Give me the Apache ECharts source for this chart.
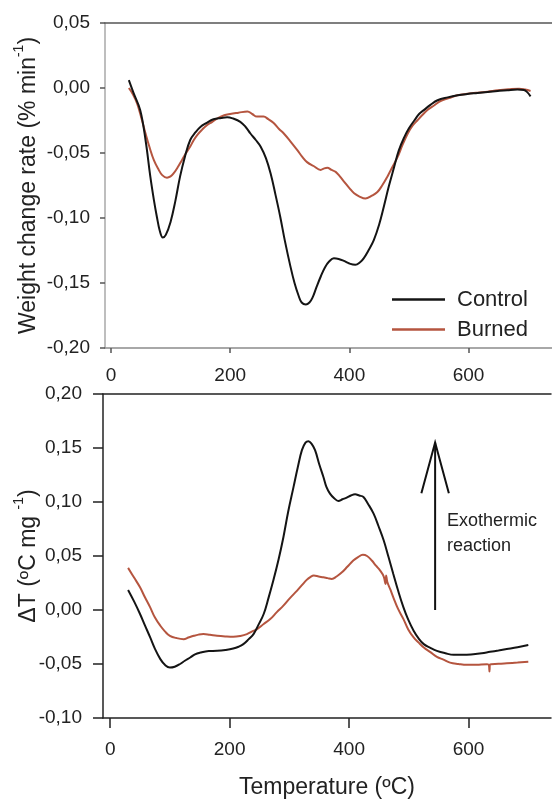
<!DOCTYPE html>
<html>
<head>
<meta charset="utf-8">
<script src="https://cdn.jsdelivr.net/npm/echarts@6/dist/echarts.min.js"></script>
<style>
html,body{margin:0;padding:0;background:#fff;}
#chart{width:552px;height:802px;}
</style>
</head>
<body>
<div id="chart"></div>
<script>
// ---- Data (temperature in ºC, value) ----
const xTickValues = [0, 200, 400, 600];
const seriesNames = ['Control', 'Burned'];

// Top panel: weight change rate (% min-1)
const dtgControl = [[30,0.006],[38,-0.004],[49,-0.017],[58,-0.040],[66,-0.068],[72,-0.086],[77,-0.099],[82,-0.110],[87,-0.115],[92,-0.113],[100,-0.103],[108,-0.087],[116,-0.068],[124,-0.053],[133,-0.040],[142,-0.034],[150,-0.030],[160,-0.027],[172,-0.024],[185,-0.023],[195,-0.0225],[205,-0.0235],[217,-0.026],[226,-0.030],[234,-0.035],[243,-0.040],[251,-0.045],[260,-0.054],[268,-0.066],[276,-0.082],[284,-0.099],[292,-0.118],[301,-0.137],[308,-0.150],[315,-0.160],[320,-0.165],[327,-0.1665],[333,-0.165],[338,-0.1615],[345,-0.153],[352,-0.145],[359,-0.138],[366,-0.1335],[374,-0.131],[382,-0.1315],[391,-0.133],[400,-0.135],[410,-0.136],[418,-0.134],[424,-0.131],[432,-0.125],[441,-0.117],[450,-0.105],[458,-0.091],[466,-0.076],[475,-0.061],[483,-0.048],[492,-0.038],[500,-0.031],[509,-0.025],[517,-0.020],[525,-0.017],[536,-0.013],[548,-0.0094],[565,-0.0072],[582,-0.0056],[598,-0.0046],[615,-0.0038],[632,-0.003],[649,-0.0023],[665,-0.0017],[682,-0.0012],[693,-0.0015],[698,-0.003],[704,-0.0064]];
const dtgBurned = [[30,0.000],[37,-0.005],[44,-0.012],[51,-0.023],[58,-0.035],[65,-0.046],[72,-0.0555],[79,-0.062],[86,-0.067],[94,-0.069],[100,-0.068],[105,-0.0657],[112,-0.061],[119,-0.0555],[126,-0.050],[133,-0.045],[139,-0.040],[145,-0.036],[153,-0.032],[161,-0.0286],[170,-0.026],[178,-0.0235],[190,-0.021],[200,-0.020],[214,-0.019],[229,-0.018],[237,-0.020],[245,-0.022],[256,-0.022],[264,-0.024],[273,-0.027],[282,-0.0315],[290,-0.035],[301,-0.041],[313,-0.048],[321,-0.053],[329,-0.057],[340,-0.060],[352,-0.063],[357,-0.062],[363,-0.0614],[370,-0.063],[377,-0.0645],[384,-0.068],[391,-0.072],[400,-0.077],[408,-0.081],[417,-0.0835],[427,-0.085],[437,-0.083],[447,-0.080],[455,-0.075],[464,-0.068],[472,-0.061],[481,-0.053],[489,-0.044],[498,-0.035],[506,-0.029],[514,-0.025],[522,-0.021],[531,-0.017],[542,-0.0135],[553,-0.010],[567,-0.0078],[581,-0.0056],[598,-0.0045],[615,-0.0036],[632,-0.0028],[649,-0.0018],[667,-0.001],[685,-0.0005],[695,-0.0012],[704,-0.0023]];

// Bottom panel: ΔT (ºC mg-1)
const dtaControl = [[30,0.0186],[40,0.008],[50,-0.0037],[58,-0.014],[67,-0.0254],[75,-0.036],[84,-0.0455],[92,-0.051],[100,-0.0533],[108,-0.0525],[117,-0.050],[125,-0.047],[134,-0.044],[142,-0.041],[151,-0.0394],[165,-0.038],[179,-0.0378],[193,-0.037],[206,-0.0357],[215,-0.034],[223,-0.0316],[232,-0.027],[240,-0.0223],[248,-0.014],[257,-0.0037],[265,0.011],[273,0.027],[282,0.047],[290,0.0674],[298,0.091],[307,0.114],[314,0.132],[321,0.148],[327,0.155],[332,0.1563],[337,0.154],[343,0.148],[350,0.135],[357,0.1232],[362,0.114],[368,0.1078],[375,0.1035],[382,0.1009],[389,0.1025],[396,0.104],[403,0.106],[410,0.1071],[417,0.106],[424,0.1046],[432,0.098],[441,0.0892],[449,0.078],[458,0.0644],[466,0.049],[474,0.0334],[482,0.018],[491,0.0024],[499,-0.009],[508,-0.0192],[516,-0.026],[525,-0.0316],[536,-0.035],[547,-0.0378],[561,-0.040],[575,-0.0415],[591,-0.0415],[608,-0.0409],[622,-0.040],[636,-0.0387],[650,-0.0375],[664,-0.0362],[682,-0.0345],[700,-0.0325]];
const dtaBurned = [[30,0.039],[40,0.030],[50,0.021],[58,0.012],[67,0.0024],[75,-0.007],[84,-0.0146],[92,-0.020],[100,-0.0239],[111,-0.026],[123,-0.027],[131,-0.0255],[140,-0.0239],[148,-0.0228],[156,-0.0223],[167,-0.023],[179,-0.0239],[193,-0.0245],[206,-0.0248],[218,-0.024],[229,-0.0223],[237,-0.020],[246,-0.0177],[257,-0.013],[268,-0.0084],[279,-0.002],[290,0.004],[301,0.011],[313,0.018],[321,0.023],[329,0.0279],[335,0.0305],[341,0.0319],[349,0.031],[357,0.0303],[364,0.0295],[371,0.0288],[379,0.031],[388,0.0349],[397,0.040],[407,0.0458],[415,0.049],[423,0.0511],[430,0.050],[438,0.0458],[445,0.041],[452,0.0365],[458,0.031],[461,0.024],[462,0.032],[464,0.026],[469,0.019],[474,0.0117],[482,0.001],[491,-0.0084],[499,-0.018],[508,-0.0254],[516,-0.030],[525,-0.0347],[536,-0.039],[547,-0.0434],[558,-0.046],[569,-0.0487],[583,-0.050],[597,-0.0508],[614,-0.0506],[631,-0.0502],[634,-0.051],[635,-0.057],[636,-0.0505],[650,-0.0498],[664,-0.0493],[682,-0.0487],[700,-0.048]];

// Annotation arrow (data coordinates of bottom panel)
const arrowShaft = [[544,0.0],[544,0.155]];
const arrowHead = [[521,0.108],[544,0.155],[567,0.108]];

// ---- Chart ----
const FONT = "'Liberation Sans', Arial, sans-serif";
const BLACK = '#141414';
const RED = '#b5553f';
const fmt = v => (Math.abs(v) < 1e-9 ? 0 : v).toFixed(2).replace('.', ',');

const chart = echarts.init(document.getElementById('chart'), null, {renderer: 'canvas'});

function xAxisBottom(gridIndex, min, max, lineColor, tickColor, tickLen, labelMargin, showName) {
  return {
    type: 'value', gridIndex, min, max, position: 'bottom',
    axisLine: {show: true, onZero: false, lineStyle: {color: lineColor, width: 1.5}},
    axisTick: {show: true, customValues: xTickValues, length: tickLen, lineStyle: {color: tickColor, width: 1.5}},
    axisLabel: {customValues: xTickValues, margin: labelMargin, color: '#222', fontSize: 19, fontFamily: FONT},
    splitLine: {show: false},
    name: showName ? 'Temperature (ºC)' : '',
    nameLocation: 'middle', nameGap: 58,
    nameTextStyle: {color: '#222', fontSize: 23, fontFamily: FONT}
  };
}
function xAxisTop(gridIndex, min, max, color) {
  return {
    type: 'value', gridIndex, min, max, position: 'top',
    axisLine: {show: true, onZero: false, lineStyle: {color, width: 1.5}},
    axisTick: {show: false}, axisLabel: {show: false}, splitLine: {show: false}
  };
}
const nameRich = {
  a: {fontSize: 23, color: '#222', fontFamily: FONT, lineHeight: 28, verticalAlign: 'bottom'},
  s: {fontSize: 14, color: '#222', fontFamily: FONT, lineHeight: 28, verticalAlign: 'top'}
};

const option = {
  animation: false,
  backgroundColor: '#fff',
  textStyle: {fontFamily: FONT},
  grid: [
    {left: 105, right: 0, top: 23, height: 325, containLabel: false, outerBoundsMode: 'none'},
    {left: 103, right: 1, top: 394, height: 324, containLabel: false, outerBoundsMode: 'none'}
  ],
  legend: {
    data: seriesNames,
    orient: 'vertical',
    left: 387, top: 283,
    icon: 'rect', itemWidth: 53, itemHeight: 2.5, itemGap: 7,
    textStyle: {fontSize: 22, color: '#222', fontFamily: FONT, padding: [0, 0, 0, 7], lineHeight: 23},
    selectedMode: false
  },
  xAxis: [
    xAxisBottom(0, -10, 740, '#8c8c8c', '#555', 5, 18, false),
    xAxisTop(0, -10, 740, '#555'),
    xAxisBottom(1, -12, 738, '#222', '#222', 10, 22, true),
    xAxisTop(1, -12, 738, '#222')
  ],
  yAxis: [
    {
      type: 'value', gridIndex: 0, min: -0.2, max: 0.05, interval: 0.05,
      axisLine: {show: true, onZero: false, lineStyle: {color: '#a8a8a8', width: 1.5}},
      axisTick: {show: true, length: 5, lineStyle: {color: '#555', width: 1.5}},
      axisLabel: {formatter: fmt, margin: 15, color: '#222', fontSize: 19, fontFamily: FONT},
      splitLine: {show: false},
      name: '{a|Weight change rate (% min}{s|-1}{a|)}',
      nameLocation: 'middle', nameGap: 65, nameMoveOverlap: false,
      nameTextStyle: {rich: nameRich}
    },
    {
      type: 'value', gridIndex: 1, min: -0.1, max: 0.2, interval: 0.05,
      axisLine: {show: true, onZero: false, lineStyle: {color: '#222', width: 1.5}},
      axisTick: {show: true, length: 10, lineStyle: {color: '#222', width: 1.5}},
      axisLabel: {formatter: fmt, margin: 21, color: '#222', fontSize: 19, fontFamily: FONT},
      splitLine: {show: false},
      name: '{a|ΔT (ºC mg }{s|-1}{a|)}',
      nameLocation: 'middle', nameGap: 63, nameMoveOverlap: false,
      nameTextStyle: {rich: nameRich}
    }
  ],
  series: [
    {name: 'Burned', type: 'line', xAxisIndex: 0, yAxisIndex: 0, data: dtgBurned, showSymbol: false, smooth: 0.4, lineStyle: {color: RED, width: 2}, itemStyle: {color: RED}, z: 2},
    {name: 'Control', type: 'line', xAxisIndex: 0, yAxisIndex: 0, data: dtgControl, showSymbol: false, smooth: 0.4, lineStyle: {color: BLACK, width: 2}, itemStyle: {color: BLACK}, z: 3},
    {name: 'Burned', type: 'line', xAxisIndex: 2, yAxisIndex: 1, data: dtaBurned, showSymbol: false, smooth: 0.4, lineStyle: {color: RED, width: 2}, itemStyle: {color: RED}, z: 2},
    {name: 'Control', type: 'line', xAxisIndex: 2, yAxisIndex: 1, data: dtaControl, showSymbol: false, smooth: 0.4, lineStyle: {color: BLACK, width: 2}, itemStyle: {color: BLACK}, z: 3},
    {name: 'arrowShaft', type: 'line', xAxisIndex: 2, yAxisIndex: 1, data: arrowShaft, showSymbol: false, silent: true, lineStyle: {color: '#111', width: 2}},
    {name: 'arrowHead', type: 'line', xAxisIndex: 2, yAxisIndex: 1, data: arrowHead, showSymbol: false, silent: true, lineStyle: {color: '#111', width: 2, join: 'miter'}}
  ],
  graphic: [
    {type: 'text', left: 447, top: 509, silent: true,
     style: {text: 'Exothermic\nreaction', fontSize: 18, lineHeight: 25, fill: '#222', fontFamily: FONT}}
  ]
};
chart.setOption(option);
</script>
</body>
</html>
